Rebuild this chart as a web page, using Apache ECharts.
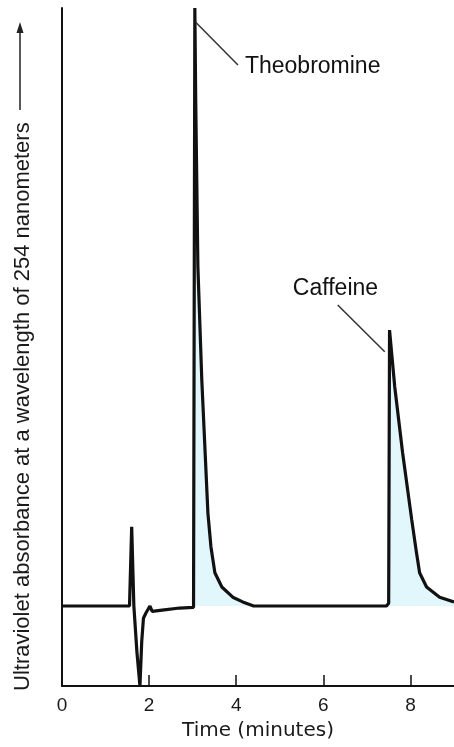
<!DOCTYPE html>
<html>
<head>
<meta charset="utf-8">
<script src="https://cdn.jsdelivr.net/npm/echarts@6/dist/echarts.min.js"></script>
<style>
html,body{margin:0;padding:0;background:#fff;}
#chart{width:454px;height:747px;}
</style>
</head>
<body>
<div id="chart"></div>
<script>
// Time (minutes) and absorbance (arbitrary units, 0-100)
var times  = [0, 1.55, 1.60, 1.65, 1.72, 1.79, 1.83, 1.87, 1.93, 2.02, 2.07, 2.30, 2.70, 3.02, 3.05, 3.07, 3.12, 3.21, 3.28, 3.35, 3.42, 3.51, 3.67, 3.92, 4.15, 4.40, 7.45, 7.50, 7.52, 7.64, 7.82, 8.03, 8.14, 8.21, 8.37, 8.67, 9.00];
var values = [11.8, 11.8, 23.5, 11.8, 5.0, 0.0, 6.5, 10.0, 10.8, 11.8, 11.0, 11.2, 11.5, 11.6, 100, 86.4, 61.8, 45.1, 35.3, 25.5, 20.5, 16.7, 14.6, 13.1, 12.4, 11.8, 11.8, 12.2, 52.5, 44.1, 34.4, 24.5, 19.6, 16.7, 14.6, 13.1, 12.4];
var baseline = 11.8;
var xTicks = [0, 2, 4, 6, 8];
var peakNames = ['Theobromine', 'Caffeine'];
var peakRanges = [[3.02, 4.40], [7.45, 9.00]];
// annotation anchors in data space
var labelPos = [[4.20, 91.3], [5.30, 58.6]];
var leaderFrom = [[3.07, 97.9], [6.33, 56.2]];
var leaderTo = [[4.04, 91.6], [7.41, 49.3]];

var lineData = times.map(function (t, i) { return [t, values[i]]; });
var fillSeriesData = [];
peakRanges.forEach(function (r, k) {
  lineData.forEach(function (p) { if (p[0] >= r[0] && p[0] <= r[1]) fillSeriesData.push(p); });
  if (k < peakRanges.length - 1) fillSeriesData.push([(r[1] + peakRanges[k + 1][0]) / 2, null]);
});

var font = '"Liberation Sans", Arial, Helvetica, sans-serif';
var wide = '"DejaVu Sans", Verdana, sans-serif';
var chart = echarts.init(document.getElementById('chart'), null, {renderer: 'canvas'});
chart.setOption({
  animation: false,
  backgroundColor: '#ffffff',
  grid: {left: 62, right: 0, top: 8, bottom: 61, containLabel: false},
  xAxis: {
    type: 'value', min: 0, max: 9, interval: 2,
    axisLine: {show: true, lineStyle: {color: '#111', width: 2}},
    axisTick: {show: true, inside: true, length: 11, lineStyle: {color: '#111', width: 1.5},
      customValues: xTicks.slice(1)},
    axisLabel: {fontSize: 19, color: '#1a1a1a', margin: 10, fontFamily: font,
      customValues: xTicks},
    splitLine: {show: false},
    name: 'Time (minutes)', nameLocation: 'middle', nameGap: 35,
    nameTextStyle: {fontSize: 20, color: '#1a1a1a', fontFamily: wide}
  },
  yAxis: {
    type: 'value', min: 0, max: 100,
    axisLine: {show: true, lineStyle: {color: '#111', width: 2}},
    axisTick: {show: false}, axisLabel: {show: false}, splitLine: {show: false}
  },
  graphic: [
    {type: 'text', x: 23, y: 691, rotation: Math.PI / 2,
      style: {text: 'Ultraviolet absorbance at a wavelength of 254 nanometers', fill: '#1a1a1a',
        font: '22px ' + font, textAlign: 'left', textVerticalAlign: 'middle'}},
    {type: 'line', shape: {x1: 20, y1: 110, x2: 20, y2: 30}, style: {stroke: '#222', lineWidth: 1.5}},
    {type: 'polygon', shape: {points: [[20, 22], [16.5, 33], [23.5, 33]]}, style: {fill: '#222'}}
  ],
  series: [
    {
      type: 'line', data: fillSeriesData, showSymbol: false, connectNulls: false,
      lineStyle: {width: 0}, silent: true, z: 1,
      areaStyle: {color: 'rgba(150,228,240,0.4)', origin: baseline}
    },
    {
      type: 'line', data: lineData, showSymbol: false, z: 3,
      lineStyle: {color: '#111', width: 3.2},
      markLine: {
        silent: true, symbol: ['none', 'none'], animation: false,
        lineStyle: {color: '#333', width: 1.5, type: 'solid'},
        label: {show: false},
        data: leaderFrom.map(function (f, i) { return [{coord: f}, {coord: leaderTo[i]}]; })
      },
      markPoint: {
        silent: true, symbolSize: 0, animation: false,
        label: {show: true, position: 'right', distance: 0, color: '#111', fontSize: 23, fontFamily: font,
          formatter: function (p) { return p.name; }},
        data: labelPos.map(function (c, i) { return {name: peakNames[i], coord: c}; })
      }
    }
  ]
});
</script>
</body>
</html>
